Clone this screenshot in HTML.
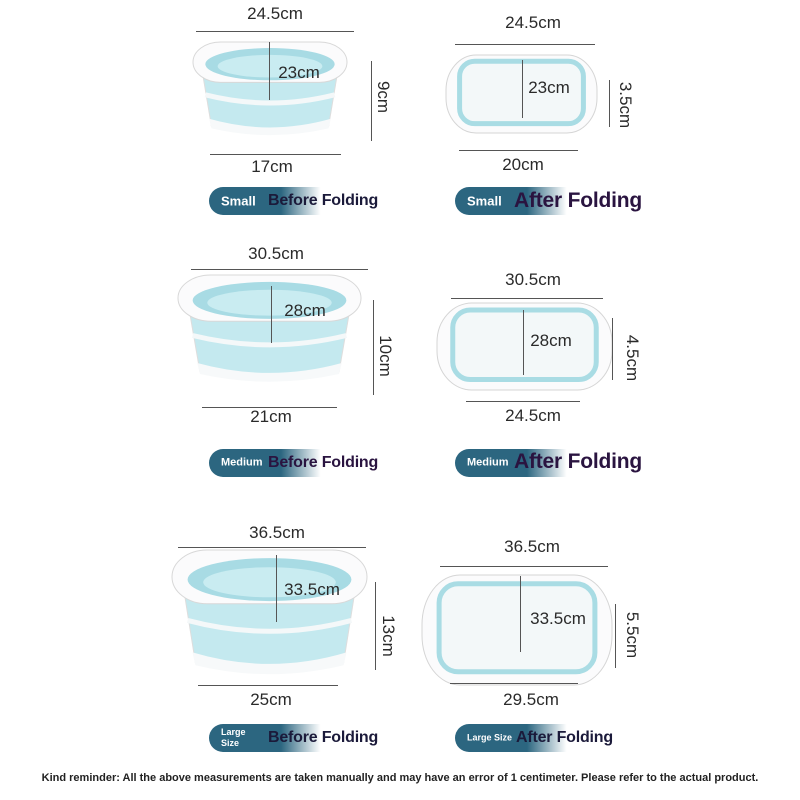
<!DOCTYPE html>
<html><head><meta charset="utf-8"><style>
body{margin:0;width:800px;height:800px;background:#fff;position:relative;overflow:hidden;font-family:"Liberation Sans",sans-serif;color:#222}
.t{position:absolute;font-size:17px;transform:translate(-50%,-50%);white-space:nowrap;color:#2a2a2a}
.r{transform:translate(-50%,-50%) rotate(90deg)}
.h{position:absolute;height:1px;background:#555}
.v{position:absolute;width:1px;background:#555}
.pill{position:absolute;height:28px;width:180px;border-radius:14px;background:linear-gradient(90deg,#2c6680 0%,#2c6680 40%,rgba(44,102,128,0) 62%);}
.pill span{position:absolute;left:12px;top:50%;transform:translateY(-50%);color:#fff;font-weight:bold;font-size:13px;line-height:11px}
.lab{position:absolute;font-weight:bold;font-size:16px;color:#1b1a3a;transform:translateY(-50%);white-space:nowrap;letter-spacing:-0.2px}
svg{position:absolute;left:0;top:0}
</style></head><body>
<svg id="s" width="800" height="800"></svg>
<div class="t" style="left:275px;top:14px">24.5cm</div><div class="h" style="left:196px;top:31px;width:158px"></div>
<div class="v" style="left:269px;top:42px;height:58px"></div><div class="t" style="left:299px;top:73px">23cm</div>
<div class="v" style="left:371px;top:61px;height:80px"></div><div class="t r" style="left:383px;top:97px">9cm</div>
<div class="h" style="left:210px;top:154px;width:131px"></div><div class="t" style="left:272px;top:167px">17cm</div>
<div class="t" style="left:533px;top:23px">24.5cm</div><div class="h" style="left:455px;top:44px;width:140px"></div>
<div class="v" style="left:522px;top:60px;height:58px"></div><div class="t" style="left:549px;top:88px">23cm</div>
<div class="v" style="left:609px;top:80px;height:47px"></div><div class="t r" style="left:625px;top:105px">3.5cm</div>
<div class="h" style="left:459px;top:150px;width:119px"></div><div class="t" style="left:523px;top:165px">20cm</div>
<div class="t" style="left:276px;top:254px">30.5cm</div><div class="h" style="left:191px;top:269px;width:177px"></div>
<div class="v" style="left:271px;top:286px;height:57px"></div><div class="t" style="left:305px;top:311px">28cm</div>
<div class="v" style="left:373px;top:300px;height:95px"></div><div class="t r" style="left:385px;top:356px">10cm</div>
<div class="h" style="left:202px;top:407px;width:135px"></div><div class="t" style="left:271px;top:417px">21cm</div>
<div class="t" style="left:533px;top:280px">30.5cm</div><div class="h" style="left:451px;top:298px;width:152px"></div>
<div class="v" style="left:523px;top:310px;height:65px"></div><div class="t" style="left:551px;top:341px">28cm</div>
<div class="v" style="left:612px;top:318px;height:62px"></div><div class="t r" style="left:632px;top:358px">4.5cm</div>
<div class="h" style="left:466px;top:401px;width:114px"></div><div class="t" style="left:533px;top:416px">24.5cm</div>
<div class="t" style="left:277px;top:533px">36.5cm</div><div class="h" style="left:178px;top:547px;width:188px"></div>
<div class="v" style="left:276px;top:555px;height:67px"></div><div class="t" style="left:312px;top:590px">33.5cm</div>
<div class="v" style="left:375px;top:582px;height:88px"></div><div class="t r" style="left:388px;top:636px">13cm</div>
<div class="h" style="left:198px;top:685px;width:140px"></div><div class="t" style="left:271px;top:700px">25cm</div>
<div class="t" style="left:532px;top:547px">36.5cm</div><div class="h" style="left:440px;top:566px;width:168px"></div>
<div class="v" style="left:520px;top:576px;height:76px"></div><div class="t" style="left:558px;top:619px">33.5cm</div>
<div class="v" style="left:615px;top:604px;height:64px"></div><div class="t r" style="left:632px;top:635px">5.5cm</div>
<div class="h" style="left:450px;top:683px;width:128px"></div><div class="t" style="left:531px;top:700px">29.5cm</div>
<div class="pill" style="left:209px;top:187px"><span>Small</span></div><div class="lab" style="left:268px;top:201px">Before Folding</div>
<div class="pill" style="left:455px;top:187px"><span>Small</span></div><div class="lab" style="left:514px;top:201px;font-size:21px;color:#2a1440">After Folding</div>
<div class="pill" style="left:209px;top:449px"><span style="font-size:11px">Medium</span></div><div class="lab" style="left:268px;top:463px;color:#2a1440">Before Folding</div>
<div class="pill" style="left:455px;top:449px"><span style="font-size:11px">Medium</span></div><div class="lab" style="left:514px;top:462px;font-size:21px;color:#2a1440">After Folding</div>
<div class="pill" style="left:209px;top:724px"><span style="font-size:9px">Large<br>Size</span></div><div class="lab" style="left:268px;top:738px">Before Folding</div>
<div class="pill" style="left:455px;top:724px"><span style="font-size:9px">Large Size</span></div><div class="lab" style="left:516px;top:738px">After Folding</div>
<div style="position:absolute;left:0;width:800px;top:772px;text-align:center;font-weight:bold;font-size:11px;color:#222">Kind reminder: All the above measurements are taken manually and may have an error of 1 centimeter. Please refer to the actual product.</div>
<script>
var s=document.getElementById('s'),o='';
function open(x,y,w,h){
 var rh=h*0.42,bx=w*0.1,by=y+h;
 o+='<path d="M'+(x+bx*0.5)+' '+(y+rh/2)+' L'+(x+bx*1.2)+' '+(by-h*0.12)+' Q'+(x+w/2)+' '+(by+h*0.04)+' '+(x+w-bx*1.2)+' '+(by-h*0.12)+' L'+(x+w-bx*0.5)+' '+(y+rh/2)+' Z" fill="#c4e9ef" stroke="#ddd"/>';
 o+='<path d="M'+(x+bx*1.05)+' '+(by-h*0.2)+' Q'+(x+w/2)+' '+(by-h*0.02)+' '+(x+w-bx*1.05)+' '+(by-h*0.2)+' L'+(x+w-bx*1.2)+' '+(by-h*0.1)+' Q'+(x+w/2)+' '+(by+h*0.04)+' '+(x+bx*1.2)+' '+(by-h*0.1)+' Z" fill="#f7f9fa"/>';
 o+='<path d="M'+(x+bx*0.8)+' '+(y+h*0.55)+' Q'+(x+w/2)+' '+(y+h*0.72)+' '+(x+w-bx*0.8)+' '+(y+h*0.55)+'" fill="none" stroke="#f4f8f9" stroke-width="5"/>';
 o+='<rect x="'+x+'" y="'+y+'" width="'+w+'" height="'+rh+'" rx="'+(w*0.18)+'" ry="'+(rh/2)+'" fill="#fbfbfc" stroke="#d8d8d8"/>';
 o+='<ellipse cx="'+(x+w/2)+'" cy="'+(y+rh*0.55)+'" rx="'+(w*0.42)+'" ry="'+(rh*0.4)+'" fill="#a8dbe4"/>';
 o+='<ellipse cx="'+(x+w/2)+'" cy="'+(y+rh*0.6)+'" rx="'+(w*0.34)+'" ry="'+(rh*0.28)+'" fill="#c9ecf1"/>';
}
function fold(x,y,w,h){
 o+='<rect x="'+x+'" y="'+y+'" width="'+w+'" height="'+h+'" rx="'+(w*0.2)+'" ry="'+(h*0.45)+'" fill="#fbfbfc" stroke="#d5d5d5"/>';
 o+='<rect x="'+(x+w*0.09)+'" y="'+(y+h*0.08)+'" width="'+(w*0.82)+'" height="'+(h*0.8)+'" rx="'+(w*0.1)+'" fill="#f3f8f9" stroke="#a9dce4" stroke-width="5"/>';
}
open(193,42,154,96);open(178,275,183,110);open(172,550,195,128);
fold(446,55,151,78);fold(437,303,175,87);fold(422,575,190,110);
s.innerHTML=o;
</script>
</body></html>
